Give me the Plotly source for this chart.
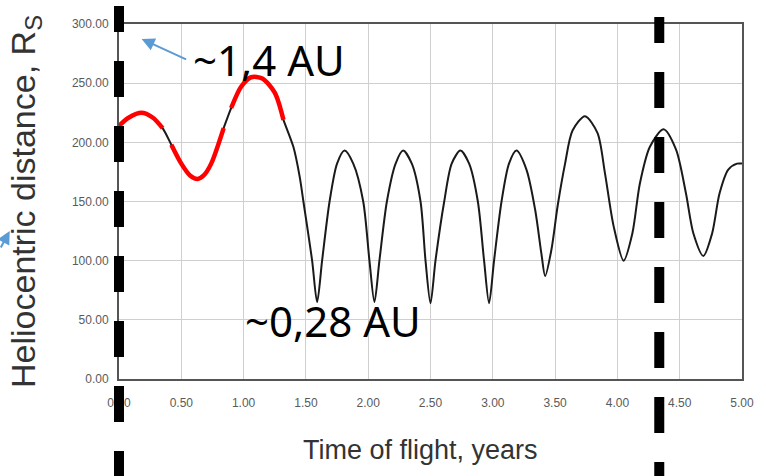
import plotly.graph_objects as go

# ---- data ----
TIME = [0.00, 0.08, 0.18, 0.27, 0.35, 0.42, 0.50, 0.57, 0.63, 0.68, 0.74, 0.84,
        0.90, 0.98, 1.06, 1.15, 1.25, 1.32, 1.40, 1.45, 1.48, 1.55, 1.59,
        1.63, 1.69, 1.75, 1.81, 1.88, 1.96, 2.01, 2.05,
        2.09, 2.15, 2.22, 2.28, 2.35, 2.42, 2.46, 2.50,
        2.54, 2.61, 2.67, 2.74, 2.81, 2.88, 2.93, 2.97,
        3.01, 3.07, 3.13, 3.19, 3.27, 3.34, 3.39, 3.42,
        3.47, 3.52, 3.58, 3.64, 3.74, 3.84, 3.90, 3.97, 4.05,
        4.12, 4.18, 4.26, 4.37, 4.47, 4.55, 4.61, 4.69,
        4.76, 4.82, 4.89, 4.96, 5.00]
DIST = [214, 221, 225, 221, 212, 198, 182, 172, 169, 172, 182, 212,
        229, 247, 255, 254, 242, 219, 196, 171, 150, 100, 65,
        100, 150, 182, 193, 182, 150, 100, 65,
        100, 150, 182, 193, 182, 150, 100, 64,
        100, 150, 182, 193, 182, 150, 100, 64,
        100, 150, 182, 193, 177, 143, 106, 87,
        109, 146, 182, 210, 222, 208, 174, 129, 100,
        123, 165, 196, 211, 194, 157, 123, 104,
        123, 157, 177, 182, 182]

# red (highlighted) portions of the trajectory, as [start, end] times
RED_SEGMENTS = [[0.00, 0.35], [0.42, 0.84], [0.90, 1.32]]

# dashed marker lines (time of flight, years)
MARKER_TIMES = [0.0, 4.336]

X_TICKS = [0.0, 0.5, 1.0, 1.5, 2.0, 2.5, 3.0, 3.5, 4.0, 4.5, 5.0]
Y_TICKS = [0, 50, 100, 150, 200, 250, 300]
X_RANGE = [0, 5]
Y_RANGE = [0, 300]

LABEL_HIGH = "~1,4 AU"
LABEL_LOW = "~0,28 AU"
X_TITLE = "Time of flight, years"
Y_TITLE = "Heliocentric distance, R<sub>S</sub>"

fig = go.Figure()

fig.add_trace(go.Scatter(x=TIME, y=DIST, mode="lines",
                         line=dict(color="#1a1a1a", width=2, shape="spline", smoothing=0.8),
                         showlegend=False, hoverinfo="skip"))

for t0, t1 in RED_SEGMENTS:
    xs = [t for t in TIME if t0 <= t <= t1]
    ys = [d for t, d in zip(TIME, DIST) if t0 <= t <= t1]
    fig.add_trace(go.Scatter(x=xs, y=ys, mode="lines",
                             line=dict(color="#ff0000", width=4.5, shape="spline", smoothing=0.8),
                             showlegend=False, hoverinfo="skip"))

dash_pattern = ",".join(["26px", "29px"] + ["36px", "29px"] * 8)
tops = [1.0507, 1.0197]
for t, top in zip(MARKER_TIMES, tops):
    px = (t - X_RANGE[0]) / (X_RANGE[1] - X_RANGE[0])
    fig.add_shape(type="line", xref="paper", yref="paper",
                  x0=px, x1=px, y0=top, y1=-0.32,
                  line=dict(color="black", width=10, dash=dash_pattern),
                  layer="above")

fig.add_annotation(text=LABEL_HIGH, xref="paper", yref="paper", x=0.2400, y=0.90,
                   showarrow=False, font=dict(family="Noto Sans", size=42, color="black"),
                   xanchor="center", yanchor="middle")
fig.add_annotation(text=LABEL_LOW, xref="paper", yref="paper", x=0.3430, y=0.165,
                   showarrow=False, font=dict(family="Noto Sans", size=42, color="black"),
                   xanchor="center", yanchor="middle")
fig.add_annotation(text="", xref="paper", yref="paper", x=0.0363, y=0.9577,
                   showarrow=True, ax=46, ay=21, arrowcolor="#5B9BD5",
                   arrowwidth=2, arrowhead=2, arrowsize=1.3, standoff=0)
fig.add_annotation(text="", xref="paper", yref="paper", x=-0.1754, y=0.417,
                   showarrow=True, ax=-30, ay=18, arrowcolor="#5B9BD5",
                   arrowwidth=2, arrowhead=2, arrowsize=1.3, standoff=0)
# x-axis title (slightly left of the plot centre, as in the reference)
fig.add_annotation(text=X_TITLE, xref="paper", yref="paper", x=0.484, y=-0.20,
                   showarrow=False, xanchor="center", yanchor="middle",
                   font=dict(family="Liberation Sans", size=27, color="#333333"))

axis_common = dict(showgrid=True, gridcolor="#cfcfcf", gridwidth=1,
                   showline=True, linecolor="#555555", linewidth=2, mirror=True,
                   zeroline=False, ticks="",
                   tickfont=dict(family="Liberation Sans", size=12, color="#5a5a5a"),
                   tickformat=".2f")

fig.update_layout(
    width=766, height=476,
    margin=dict(l=119, r=14, t=24, b=97),
    paper_bgcolor="white", plot_bgcolor="white",
    xaxis=dict(range=X_RANGE, tickvals=X_TICKS, ticklabelstandoff=12, **axis_common),
    yaxis=dict(range=Y_RANGE, tickvals=Y_TICKS, ticklabelstandoff=6, **axis_common,
               title=dict(text=Y_TITLE, standoff=26,
                          font=dict(family="Liberation Sans", size=34, color="#333333"))),
)

fig.write_html("out.html")
